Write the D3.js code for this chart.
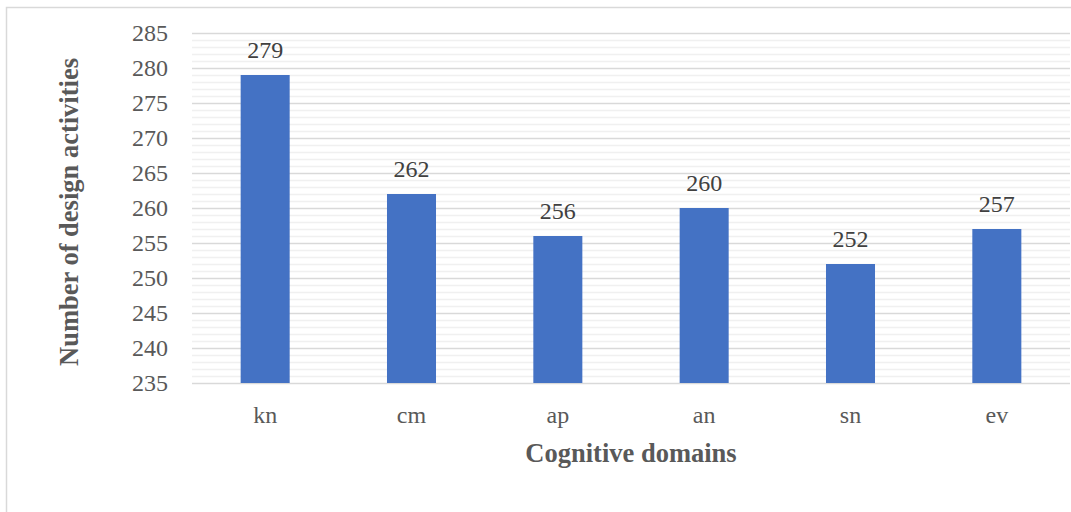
<!DOCTYPE html>
<html>
<head>
<meta charset="utf-8">
<script src="https://cdn.jsdelivr.net/npm/d3@7"></script>
<style>
  html, body { margin: 0; padding: 0; background: #fff; }
  svg { display: block; }
  svg text { font-family: "Liberation Serif", "Times New Roman", serif !important; }
</style>
</head>
<body>
<svg id="chart" width="1071" height="512"></svg>
<script>
// Cognitive domains and number of design activities in each
const categories = ["kn", "cm", "ap", "an", "sn", "ev"];
const counts = [279, 262, 256, 260, 252, 257];
const yTicks = [235, 240, 245, 250, 255, 260, 265, 270, 275, 280, 285];

const svg = d3.select("#chart");
const W = 1071, H = 512;
const plot = { left: 192, right: 1070, top: 33, bottom: 383 };

// Outer chart frame
svg.append("rect")
  .attr("x", 6.5).attr("y", 7.5)
  .attr("width", W + 10).attr("height", H + 10)
  .attr("fill", "#fff").attr("stroke", "#d9d9d9").attr("stroke-width", 1.5);

const x = d3.scaleBand().domain(categories).range([plot.left, plot.right]).paddingInner(0.665).paddingOuter(0.3325);
const y = d3.scaleLinear().domain([235, 285]).range([plot.bottom, plot.top]);

// Minor gridlines, one per unit
const minor = d3.range(236, 285).filter(v => v % 5 !== 0);
svg.append("g").selectAll("line").data(minor).join("line")
  .attr("x1", plot.left).attr("x2", plot.right)
  .attr("y1", d => Math.round(y(d)) + 0.5).attr("y2", d => Math.round(y(d)) + 0.5)
  .attr("stroke", "#f0f0f0").attr("stroke-width", 1.5);

// Major gridlines
svg.append("g").selectAll("line").data(yTicks).join("line")
  .attr("x1", plot.left).attr("x2", plot.right)
  .attr("y1", d => Math.round(y(d)) + 0.5).attr("y2", d => Math.round(y(d)) + 0.5)
  .attr("stroke", "#d9d9d9").attr("stroke-width", 1.5);

// Y axis labels
const yAxis = d3.axisLeft(y).tickValues(yTicks).tickSize(0).tickPadding(24);
const gy = svg.append("g").attr("transform", `translate(${plot.left},0)`).call(yAxis);
gy.select(".domain").remove();
gy.attr("font-size", null).attr("font-family", null);
gy.selectAll("text").style("font-size", "24px").attr("fill", "#595959");

// Bars
svg.append("g").selectAll("rect").data(categories).join("rect")
  .attr("x", d => x(d))
  .attr("width", x.bandwidth())
  .attr("y", (d, i) => y(counts[i]))
  .attr("height", (d, i) => y(235) - y(counts[i]))
  .attr("fill", "#4472c4");

// Value labels
svg.append("g").selectAll("text").data(categories).join("text")
  .attr("x", d => x(d) + x.bandwidth() / 2)
  .attr("y", (d, i) => y(counts[i]) - 17)
  .attr("text-anchor", "middle")
  .style("font-size", "24px").attr("fill", "#404040")
  .text((d, i) => counts[i]);

// X axis labels
const xAxis = d3.axisBottom(x).tickSize(0).tickPadding(23);
const gx = svg.append("g").attr("transform", `translate(0,${plot.bottom})`).call(xAxis);
gx.select(".domain").remove();
gx.attr("font-size", null).attr("font-family", null);
gx.selectAll("text").style("font-size", "24px").attr("fill", "#595959");

// Axis titles
svg.append("text")
  .attr("x", 631).attr("y", 462)
  .attr("text-anchor", "middle")
  .style("font-size", "26.5px").attr("font-weight", "bold").attr("fill", "#595959")
  .text("Cognitive domains");

svg.append("text")
  .attr("transform", `translate(78,212) rotate(-90)`)
  .attr("text-anchor", "middle")
  .style("font-size", "26.5px").attr("font-weight", "bold").attr("fill", "#595959")
  .text("Number of design activities");
</script>
</body>
</html>
